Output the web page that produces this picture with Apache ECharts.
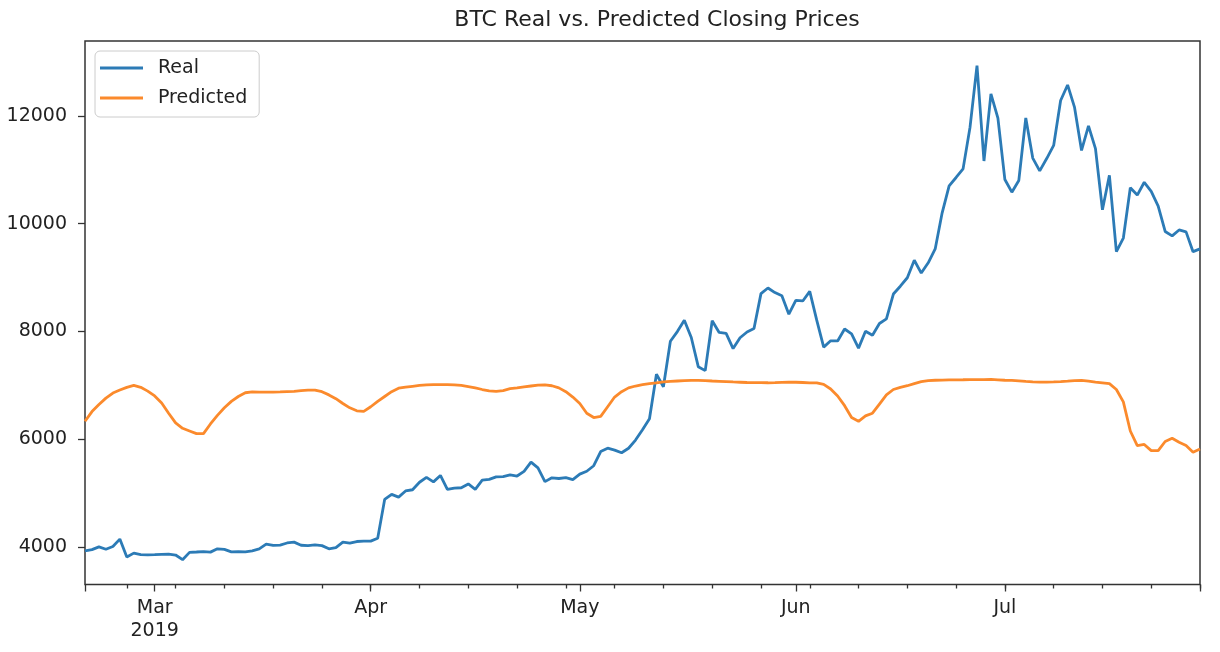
<!DOCTYPE html>
<html><head><meta charset="utf-8">
<script src="https://cdn.jsdelivr.net/npm/echarts@6/dist/echarts.min.js"></script>
<style>html,body{margin:0;padding:0;background:#fff}#c{width:1220px;height:652px}</style>
</head><body><div id="c"></div>
<script>
const startDate = '2019-02-19';
const dayCount = 161;
const realPrices = [
3925,3947,3999,3955,4006,4143,3810,3882,3854,3851,
3854,3859,3864,3847,3761,3896,3903,3911,3901,3963,
3951,3905,3909,3906,3924,3960,4048,4025,4032,4071,
4087,4029,4023,4035,4022,3963,3985,4087,4069,4098,
4106,4105,4158,4880,4974,4922,5036,5059,5198,5289,
5205,5325,5064,5090,5096,5167,5067,5236,5251,5298,
5304,5337,5314,5399,5572,5464,5210,5280,5268,5285,
5247,5350,5402,5505,5768,5831,5795,5746,5829,5982,
6174,6378,7204,6972,7815,7995,8206,7885,7344,7271,
8197,7979,7963,7680,7881,7988,8052,8700,8805,8719,
8659,8319,8575,8564,8742,8208,7707,7824,7822,8043,
7954,7688,8001,7927,8145,8230,8693,8838,8995,9320,
9082,9273,9530,10200,10702,10856,11016,11790,12932,11162,
12407,11959,10818,10583,10801,11961,11216,10978,11208,11451,
12285,12574,12157,11358,11816,11392,10257,10896,9478,9732,
10666,10530,10767,10600,10323,9854,9772,9882,9847,9479,
9531
];
const predictedPrices = [
6330,6510,6640,6760,6855,6910,6960,6995,6960,6890,
6800,6670,6480,6300,6200,6150,6100,6100,6280,6440,
6580,6700,6790,6860,6875,6870,6870,6872,6875,6880,
6885,6900,6910,6910,6880,6820,6750,6660,6580,6525,
6515,6600,6700,6790,6880,6945,6965,6980,6995,7005,
7010,7012,7012,7005,6995,6975,6950,6920,6895,6885,
6900,6935,6950,6970,6985,7000,7005,6990,6950,6880,
6780,6660,6480,6400,6420,6600,6780,6880,6950,6985,
7010,7030,7045,7060,7070,7078,7084,7088,7088,7085,
7078,7072,7066,7060,7055,7050,7048,7046,7045,7048,
7052,7055,7055,7050,7045,7042,7015,6930,6800,6620,
6400,6330,6430,6480,6650,6820,6920,6960,6990,7030,
7065,7085,7092,7096,7098,7100,7101,7103,7104,7105,
7107,7100,7092,7088,7080,7070,7062,7057,7058,7062,
7068,7075,7085,7088,7075,7058,7045,7030,6920,6690,
6150,5880,5900,5785,5785,5955,6015,5940,5880,5755,
5817
];
const monthTickDates = ['2019-03-01','2019-04-01','2019-05-01','2019-06-01','2019-07-01'];
const monthTickLabels = ['Mar\n2019','Apr','May','Jun','Jul'];
const yTickValues = [4000,6000,8000,10000,12000];

const dates = [];
{
  const p = startDate.split('-').map(Number);
  for (let i = 0; i < dayCount; i++) {
    dates.push(new Date(Date.UTC(p[0], p[1]-1, p[2]+i)).toISOString().slice(0,10));
  }
}
const labelMap = {};
monthTickDates.forEach((d,i)=>{ labelMap[d] = monthTickLabels[i]; });
const isMonday = v => new Date(v + 'T00:00:00Z').getUTCDay() === 1;
const FONT = 'DejaVu Sans';
const tickStyle = {color:'#333', width:1.3};

const chart = echarts.init(document.getElementById('c'), null, {renderer:'canvas'});
chart.setOption({
  animation:false,
  backgroundColor:'#fff',
  title:{text:'BTC Real vs. Predicted Closing Prices', left:652, top:4, textAlign:'center',
    textStyle:{fontSize:22, fontWeight:'normal', color:'#222', fontFamily:FONT}},
  legend:{orient:'vertical', left:95, top:51,
    data:[{name:'Real', icon:'rect'},{name:'Predicted', icon:'rect'}],
    itemWidth:43, itemHeight:3, itemGap:10, padding:[7,12,9,5],
    borderColor:'#cccccc', borderWidth:1, borderRadius:5, backgroundColor:'rgba(255,255,255,0.8)',
    textStyle:{fontSize:19, color:'#222', fontFamily:FONT, lineHeight:20, padding:[0,0,0,10]}},
  grid:{left:85, right:20, top:41, bottom:67.5, show:true, borderColor:'#333', borderWidth:1.5,
    backgroundColor:'#fff', containLabel:false, outerBoundsMode:'none'},
  xAxis:[
    {type:'category', data:dates, boundaryGap:false, position:'bottom',
      axisLine:{show:false},
      axisTick:{show:true, length:7, lineStyle:tickStyle,
        interval:(i,v)=> monthTickDates.includes(v) || i===0 || i===dates.length-1},
      axisLabel:{interval:(i,v)=> monthTickDates.includes(v), formatter:v=> labelMap[v] || '',
        fontSize:19, color:'#222', lineHeight:23, margin:12, fontFamily:FONT},
      splitLine:{show:false}},
    {type:'category', data:dates, boundaryGap:false, position:'bottom',
      axisLine:{show:false}, axisLabel:{show:false},
      axisTick:{show:true, length:4, lineStyle:tickStyle, interval:(i,v)=> isMonday(v)},
      splitLine:{show:false}}
  ],
  yAxis:{type:'value', min:3300, max:13390,
    axisLine:{show:false},
    axisTick:{show:true, length:7, lineStyle:tickStyle, customValues:yTickValues},
    axisLabel:{customValues:yTickValues, formatter:v=> String(v), fontSize:19, color:'#222', margin:18, fontFamily:FONT},
    splitLine:{show:false}},
  series:[
    {name:'Real', type:'line', data:realPrices, xAxisIndex:0, symbol:'none', color:'#2c7bb6',
      lineStyle:{width:2.8, color:'#2c7bb6'}},
    {name:'Predicted', type:'line', data:predictedPrices, xAxisIndex:0, symbol:'none', color:'#fb8a2c',
      lineStyle:{width:2.8, color:'#fb8a2c'}}
  ]
});
</script></body></html>
